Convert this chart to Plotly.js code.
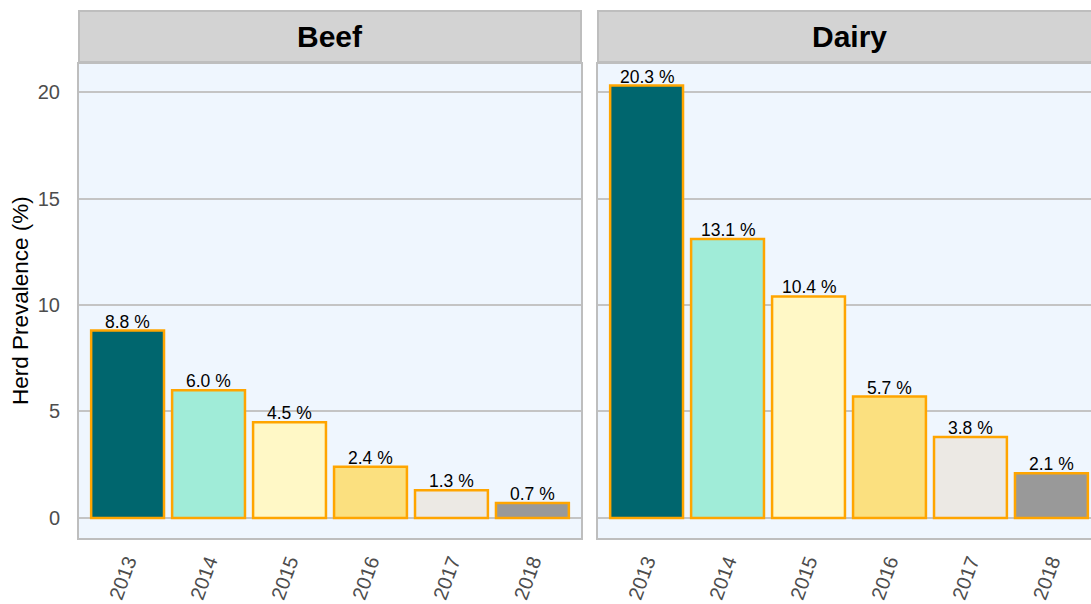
<!DOCTYPE html>
<html>
<head>
<meta charset="utf-8">
<script src="https://cdn.plot.ly/plotly-3.0.1.min.js"></script>
<style>
html, body { margin: 0; padding: 0; overflow: hidden; background: #ffffff; }
#chart { width: 1110px; height: 604px; }
</style>
</head>
<body>
<div id="chart"></div>
<script>
const years = ["2013", "2014", "2015", "2016", "2017", "2018"];
const beefValues = [8.8, 6.0, 4.5, 2.4, 1.3, 0.7];
const dairyValues = [20.3, 13.1, 10.4, 5.7, 3.8, 2.1];
const panelTitles = ["Beef", "Dairy"];
const yearColors = ["#00666e", "#a0ecd8", "#fff8c6", "#fbe07f", "#ece9e4", "#999999"];
const yTicks = [0, 5, 10, 15, 20];

const font = "Liberation Sans, Arial, sans-serif";

function barTrace(values, xa, ya) {
  return {
    type: "bar",
    x: years,
    y: values,
    xaxis: xa,
    yaxis: ya,
    width: 0.9,
    marker: { color: yearColors, line: { color: "#ffa500", width: 2.5 } },
    hoverinfo: "x+y",
    showlegend: false
  };
}

const data = [barTrace(beefValues, "x", "y"), barTrace(dairyValues, "x2", "y2")];

const W = 1021, H = 474;
const yRange = [-0.94, 21.315];

function xaxis(domain, anchor) {
  return {
    domain: domain, anchor: anchor, type: "category",
    categoryarray: years, categoryorder: "array",
    range: [-0.6, 5.6],
    showgrid: false, zeroline: false,
    showline: true, mirror: true, linecolor: "#bebebe", linewidth: 2,
    ticks: "outside", ticklen: 2, tickcolor: "rgba(0,0,0,0)",
    tickangle: -70,
    tickfont: { family: font, size: 20, color: "#4d4d4d" },
    fixedrange: true
  };
}
function yaxis(anchor, showLabels) {
  return {
    anchor: anchor, domain: [0, 1], range: yRange,
    tickvals: yTicks, ticktext: yTicks.map(String),
    showticklabels: showLabels,
    showgrid: true, gridcolor: "#c4c4c4", gridwidth: 2,
    zeroline: false,
    showline: true, mirror: true, linecolor: "#bebebe", linewidth: 2,
    ticks: "outside", ticklen: 13, tickcolor: "rgba(0,0,0,0)",
    tickfont: { family: font, size: 20, color: "#4d4d4d" },
    fixedrange: true
  };
}

const stripY0 = 1 + 2 / H, stripY1 = 1 + 53 / H;
const shapes = [], annotations = [];
const panelValues = [beefValues, dairyValues];
["x", "x2"].forEach((xa, i) => {
  const ya = i === 0 ? "y" : "y2";
  shapes.push({
    type: "rect", xref: xa + " domain", yref: ya + " domain",
    x0: 0, x1: 1, y0: stripY0, y1: stripY1,
    fillcolor: "#d3d3d3", line: { color: "#bebebe", width: 2 }, layer: "above"
  });
  annotations.push({
    text: "<b>" + panelTitles[i] + "</b>", xref: xa + " domain", yref: ya + " domain",
    x: 0.5, y: 1 + 27.5 / H, xanchor: "center", yanchor: "middle", showarrow: false,
    font: { family: font, size: 30, color: "#000000" }
  });
  panelValues[i].forEach((v, j) => {
    annotations.push({
      text: v.toFixed(1) + " %", xref: xa, yref: ya, x: j, y: v,
      xanchor: "center", yanchor: "bottom", yshift: -3, showarrow: false,
      font: { family: font, size: 17.5, color: "#000000" }
    });
  });
});
annotations.push({
  text: "Herd Prevalence (%)", textangle: -90, xref: "paper", yref: "paper",
  x: (20 - 79) / W, y: 0.5, xanchor: "center", yanchor: "middle", showarrow: false,
  font: { family: font, size: 22.5, color: "#000000" }
});

const layout = {
  width: 1110, height: 604,
  margin: { l: 79, r: 10, t: 64, b: 66 },
  paper_bgcolor: "#ffffff",
  plot_bgcolor: "#eff6fe",
  font: { family: font },
  xaxis: xaxis([0, 502 / W], "y"),
  xaxis2: xaxis([519 / W, 1], "y2"),
  yaxis: yaxis("x", true),
  yaxis2: yaxis("x2", false),
  shapes: shapes,
  annotations: annotations,
  bargap: 0.1,
  showlegend: false
};

Plotly.newPlot("chart", data, layout, { displayModeBar: false });
</script>
</body>
</html>
